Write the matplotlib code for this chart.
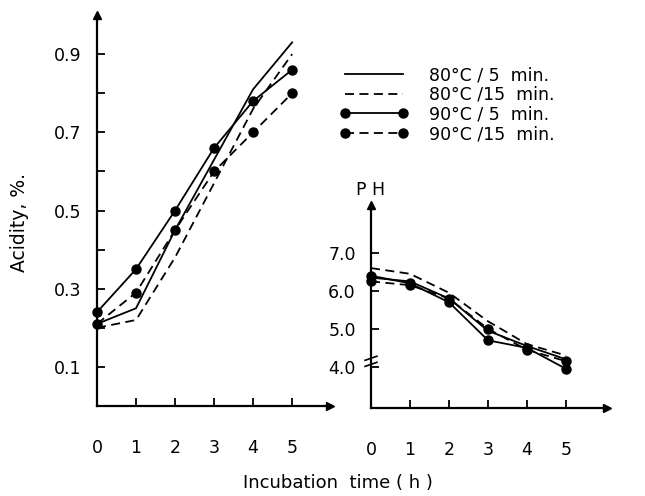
import numpy as np
import matplotlib
matplotlib.use("Agg")
import matplotlib.pyplot as plt

# incubation time (h)
hours = [0, 1, 2, 3, 4, 5]

# acidity, % (left panel)
acid_80_5 = [0.21, 0.25, 0.45, 0.63, 0.81, 0.93]
acid_80_15 = [0.20, 0.22, 0.38, 0.57, 0.76, 0.90]
acid_90_5 = [0.24, 0.35, 0.50, 0.66, 0.78, 0.86]
acid_90_15 = [0.21, 0.29, 0.45, 0.60, 0.70, 0.80]

# pH (right panel)
ph_80_5 = [6.35, 6.25, 5.80, 4.95, 4.55, 4.20]
ph_80_15 = [6.60, 6.45, 5.95, 5.20, 4.60, 4.30]
ph_90_5 = [6.40, 6.20, 5.70, 4.70, 4.50, 3.95]
ph_90_15 = [6.25, 6.15, 5.80, 5.00, 4.45, 4.15]

labels = ["80°C / 5  min.", "80°C /15  min.", "90°C / 5  min.", "90°C /15  min."]

W, H = 645, 496
fig = plt.figure(figsize=(W / 100, H / 100), dpi=100)

ax1 = fig.add_axes([97 / W, (H - 406) / H, 233 / W, 391 / H])
ax2 = fig.add_axes([371 / W, (H - 408) / H, 236 / W, 203 / H])

dash = (0, (5, 3))
styles = [
    dict(ls="-", marker=None),
    dict(ls=dash, marker=None),
    dict(ls="-", marker="o"),
    dict(ls=dash, marker="o"),
]

handles = []
for ys, st, lab in zip([acid_80_5, acid_80_15, acid_90_5, acid_90_15], styles, labels):
    h, = ax1.plot(hours, ys, color="black", lw=1.3, ls=st["ls"], marker=st["marker"],
                  ms=6.5, label=lab, clip_on=False)
    handles.append(h)
for ys, st in zip([ph_80_5, ph_80_15, ph_90_5, ph_90_15], styles):
    ax2.plot(hours, ys, color="black", lw=1.3, ls=st["ls"], marker=st["marker"],
             ms=6.5, clip_on=False)

ax1.set_xlim(0, 5.97)
ax1.set_ylim(0, 1.0)
ax1.set_yticks(np.arange(0.1, 0.95, 0.1))
ax1.set_yticklabels(["0.1", "", "0.3", "", "0.5", "", "0.7", "", "0.9"])
ax1.set_xticks(hours)

ax2.set_xlim(0, 6.05)
ax2.set_ylim(2.92, 8.26)
ax2.set_yticks([4, 5, 6, 7])
ax2.set_yticklabels(["4.0", "5.0", "6.0", "7.0"])
ax2.set_xticks(hours)

for ax in (ax1, ax2):
    ax.set_facecolor("none")
    for s in ("top", "right"):
        ax.spines[s].set_visible(False)
    for s in ("left", "bottom"):
        ax.spines[s].set_linewidth(1.6)
    ax.tick_params(axis="y", direction="in", length=6, width=1.3, pad=11, labelsize=12.5)
    ax.tick_params(axis="x", direction="in", length=6, width=1.3, pad=24, labelsize=12.5)
    # arrow heads on the axes
    ax.plot(1, 0, ">k", ms=6, transform=ax.transAxes, clip_on=False)
    ax.plot(0, 1, "^k", ms=6, transform=ax.transAxes, clip_on=False)

# axis break on the pH axis
for dy in (0.0, 0.03):
    ax2.plot([-0.025, 0.025], [0.205 + dy, 0.225 + dy], color="black", lw=1.2,
             transform=ax2.transAxes, clip_on=False)

fig.text(20 / W, 1 - 223 / H, "Acidity, %.", rotation=90, ha="center", va="center", fontsize=13.5)
fig.text(371 / W, 1 - 190 / H, "P H", ha="center", va="center", fontsize=12.5)
fig.text(338 / W, 1 - 483 / H, "Incubation  time ( h )", ha="center", va="center", fontsize=13)

fig.legend(handles=handles, loc="upper left", bbox_to_anchor=(340 / W, 1 - 66 / H),
           bbox_transform=fig.transFigure, frameon=False, numpoints=2,
           handlelength=3.9, handletextpad=1.2, labelspacing=0.1,
           borderpad=0, borderaxespad=0, fontsize=12.5)

fig.savefig("out.png", dpi=100)
